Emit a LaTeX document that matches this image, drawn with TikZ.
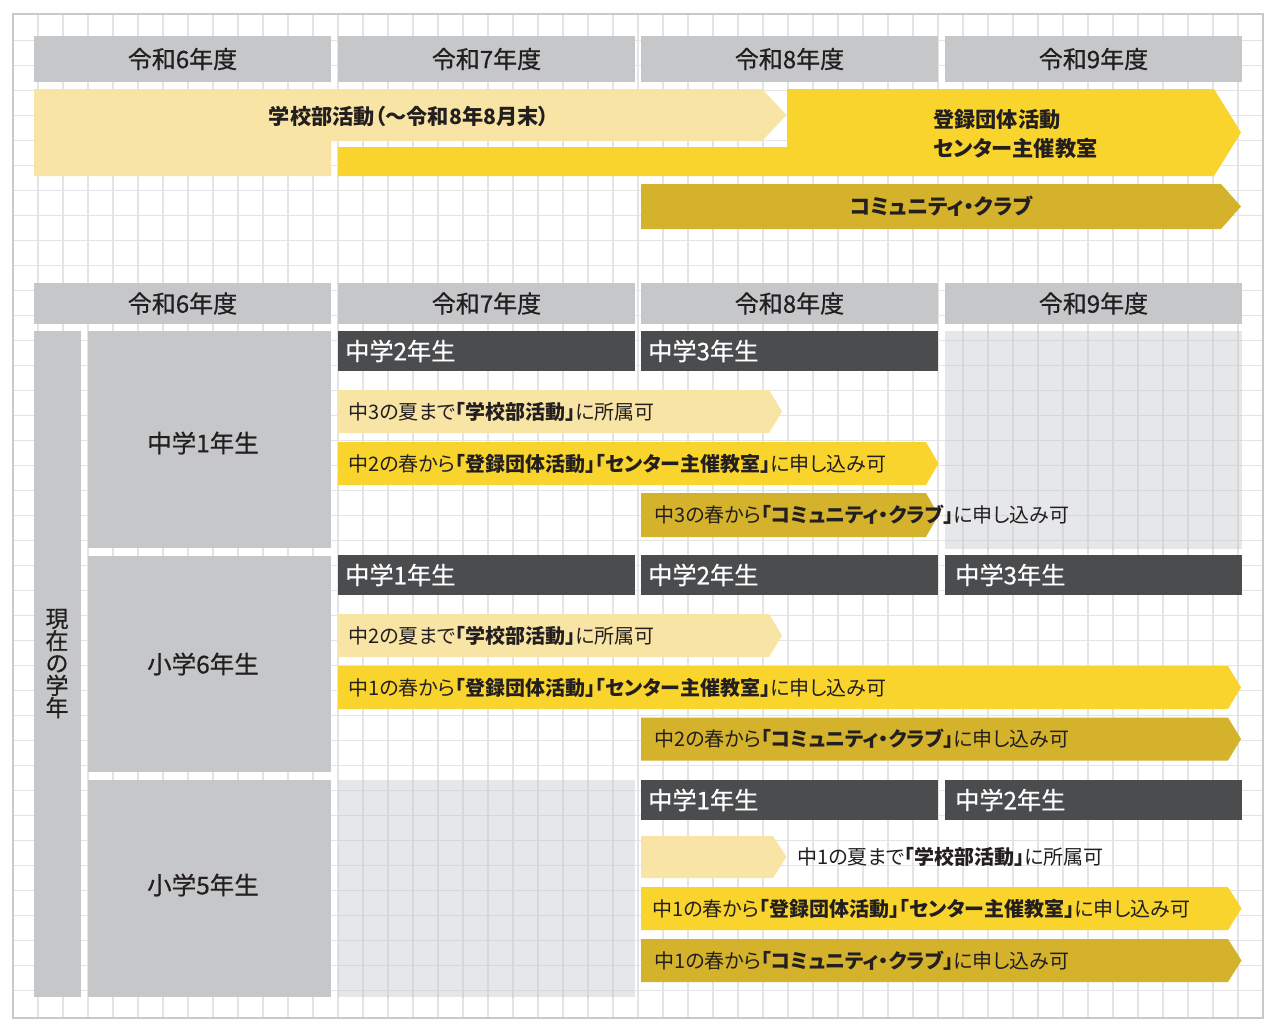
\documentclass[tikz,border=0pt]{standalone}
\usepackage{fontspec}
\setmainfont{Noto Sans CJK JP}[RawFeature=+palt]
\newfontfamily\medfont{Noto Sans CJK JP}[RawFeature=+palt,FakeBold=0.6]
\definecolor{hdr}{HTML}{C6C7C9}
\definecolor{dbar}{HTML}{4B4C4E}
\definecolor{lyel}{HTML}{F8E4A4}
\definecolor{dyel}{HTML}{F9D42D}
\definecolor{olive}{HTML}{D4B22C}
\definecolor{ovl}{HTML}{E6E7E9}
\definecolor{gridc}{HTML}{E4E4E4}
\definecolor{gridd}{HTML}{D6D7D9}
\definecolor{framec}{HTML}{C9C9C9}
\definecolor{ink}{HTML}{231F20}
\newcommand\myarrowbar[6]{%
  \fill[#6] (#1,#2) -- (#3,#2) -- ({#3+#5},{(#2+#4)/2}) -- (#3,#4) -- (#1,#4) -- cycle;}
\begin{document}
\begin{tikzpicture}[x=1pt,y=-1pt,
  gridline/.style={draw=gridc,line width=1.5pt},
  gridlined/.style={draw=gridd,line width=1.5pt},
  hdrbox/.style={fill=hdr,draw=none,inner sep=0,minimum width=297pt,text=ink,font=\medfont\fontsize{24}{26}\selectfont},
  labbox/.style={fill=hdr,draw=none,inner sep=0,minimum width=243pt,text=ink},
  labtxt/.style={text=ink,inner sep=0,font=\medfont\fontsize{24.5}{26}\selectfont},
  darkbox/.style={fill=dbar,draw=none,inner sep=0,minimum width=297pt,minimum height=40pt},
  darktxt/.style={text=white,anchor=west,inner sep=0,font=\medfont\fontsize{24.2}{26}\selectfont},
  bartxt/.style={text=ink,anchor=west,inner sep=0,font=\fontsize{20}{22}\selectfont},
  toptxt/.style={text=ink,inner sep=0,font=\bfseries\fontsize{21.2}{29}\selectfont}]
\useasboundingbox (0,0) rectangle (1279,1033);
\fill[white] (0,0) rectangle (1279,1033);
% grid
\foreach \i in {1,...,49} \draw[gridline] ({13+25*\i},14) -- ({13+25*\i},1018);
\foreach \j in {1,...,39} \draw[gridline] (13,{15.7+25*\j}) -- (1263,{15.7+25*\j});
\draw[draw=framec,line width=2pt] (13,14) rectangle (1263,1018);
% overlays
\begin{scope}
\clip (945,331) rectangle (1242,549);
\fill[ovl] (945,331) rectangle (1242,549);
\foreach \i in {37,...,49} \draw[gridlined] ({13+25*\i},14) -- ({13+25*\i},1018);
\foreach \j in {12,...,21} \draw[gridlined] (13,{15.7+25*\j}) -- (1263,{15.7+25*\j});
\end{scope}
\begin{scope}
\clip (338,780) rectangle (635,997);
\fill[ovl] (338,780) rectangle (635,997);
\foreach \i in {13,...,25} \draw[gridlined] ({13+25*\i},14) -- ({13+25*\i},1018);
\foreach \j in {31,...,39} \draw[gridlined] (13,{15.7+25*\j}) -- (1263,{15.7+25*\j});
\end{scope}
% ---------- top section ----------
\node[hdrbox,minimum height=46pt] (ha1) at (182.5,59) {令和6年度};
\node[hdrbox,minimum height=46pt] (ha2) at (486.5,59) {令和7年度};
\node[hdrbox,minimum height=46pt] (ha3) at (789.5,59) {令和8年度};
\node[hdrbox,minimum height=46pt] (ha4) at (1093.5,59) {令和9年度};
\fill[lyel] (34,89) -- (762,89) -- (786.5,115) -- (762,141) -- (331,141) -- (331,176) -- (34,176) -- cycle;
\fill[dyel] (338,147) -- (787,147) -- (787,89) -- (1214,89) -- (1241,132.5) -- (1214,176) -- (338,176) -- cycle;
\myarrowbar{641}{184}{1221}{229}{20}{olive}
\node[toptxt] (tschool) at (409,116) {学校部活動（～令和8年8月末）};
\node[toptxt,anchor=west,align=left] (treg) at (933,133.5) {登録団体活動\\センター主催教室};
\node[toptxt] (tclub) at (941,206.5) {コミュニティ・クラブ};
% ---------- bottom section ----------
\node[hdrbox,minimum height=41pt] (hb1) at (182.5,303.5) {令和6年度};
\node[hdrbox,minimum height=41pt] (hb2) at (486.5,303.5) {令和7年度};
\node[hdrbox,minimum height=41pt] (hb3) at (789.5,303.5) {令和8年度};
\node[hdrbox,minimum height=41pt] (hb4) at (1093.5,303.5) {令和9年度};
% side bar
\fill[hdr] (34,331) rectangle (81,997);
\node[text=ink,inner sep=0,align=center,font=\medfont\fontsize{23}{22.3}\selectfont] (side) at (57,663.5) {現\\在\\の\\学\\年};
% row labels
\node[labbox,minimum height=217pt] (lab1) at (209.5,439.5) {};
\node[labbox,minimum height=216pt] (lab2) at (209.5,664) {};
\node[labbox,minimum height=217pt] (lab3) at (209.5,888.5) {};
\node[labtxt] (tl1) at (203,443) {中学1年生};
\node[labtxt] (tl2) at (203,664) {小学6年生};
\node[labtxt] (tl3) at (203,885) {小学5年生};
% dark bars
\node[darkbox] (d11) at (486.5,351) {};
\node[darkbox] (d12) at (789.5,351) {};
\node[darkbox] (d21) at (486.5,575) {};
\node[darkbox] (d22) at (789.5,575) {};
\node[darkbox] (d23) at (1093.5,575) {};
\node[darkbox] (d32) at (789.5,800) {};
\node[darkbox] (d33) at (1093.5,800) {};
\node[darktxt] (td11) at (345,351) {中学2年生};
\node[darktxt] (td12) at (648,351) {中学3年生};
\node[darktxt] (td21) at (345,575) {中学1年生};
\node[darktxt] (td22) at (648,575) {中学2年生};
\node[darktxt] (td23) at (955,575) {中学3年生};
\node[darktxt] (td32) at (648,800) {中学1年生};
\node[darktxt] (td33) at (955,800) {中学2年生};
% row 1 bars
\myarrowbar{338}{390}{769}{433}{13}{lyel}
\myarrowbar{338}{442}{926}{485}{12.5}{dyel}
\myarrowbar{641}{493}{926}{537}{12.5}{olive}
\node[bartxt] (r1a) at (348,411.5) {中3の夏まで\textbf{「学校部活動」}に所属可};
\node[bartxt] (r1b) at (348,463.5) {中2の春から\textbf{「登録団体活動」「センター主催教室」}に申し込み可};
\node[bartxt] (r1c) at (654,515) {中3の春から\textbf{「コミュニティ・クラブ」}に申し込み可};
% row 2 bars
\myarrowbar{338}{614}{769}{657}{13}{lyel}
\myarrowbar{338}{666}{1228}{709}{13}{dyel}
\myarrowbar{641}{717.5}{1228}{760.5}{13}{olive}
\node[bartxt] (r2a) at (348,635.5) {中2の夏まで\textbf{「学校部活動」}に所属可};
\node[bartxt] (r2b) at (348,687.5) {中1の春から\textbf{「登録団体活動」「センター主催教室」}に申し込み可};
\node[bartxt] (r2c) at (654,739) {中2の春から\textbf{「コミュニティ・クラブ」}に申し込み可};
% row 3 bars
\myarrowbar{641}{836}{773}{878}{13.5}{lyel}
\myarrowbar{641}{887}{1228}{930}{13.5}{dyel}
\myarrowbar{641}{939}{1228}{982}{13.5}{olive}
\node[bartxt] (r3a) at (797,857) {中1の夏まで\textbf{「学校部活動」}に所属可};
\node[bartxt] (r3b) at (652,908.5) {中1の春から\textbf{「登録団体活動」「センター主催教室」}に申し込み可};
\node[bartxt] (r3c) at (654,960.5) {中1の春から\textbf{「コミュニティ・クラブ」}に申し込み可};
\end{tikzpicture}
\end{document}
